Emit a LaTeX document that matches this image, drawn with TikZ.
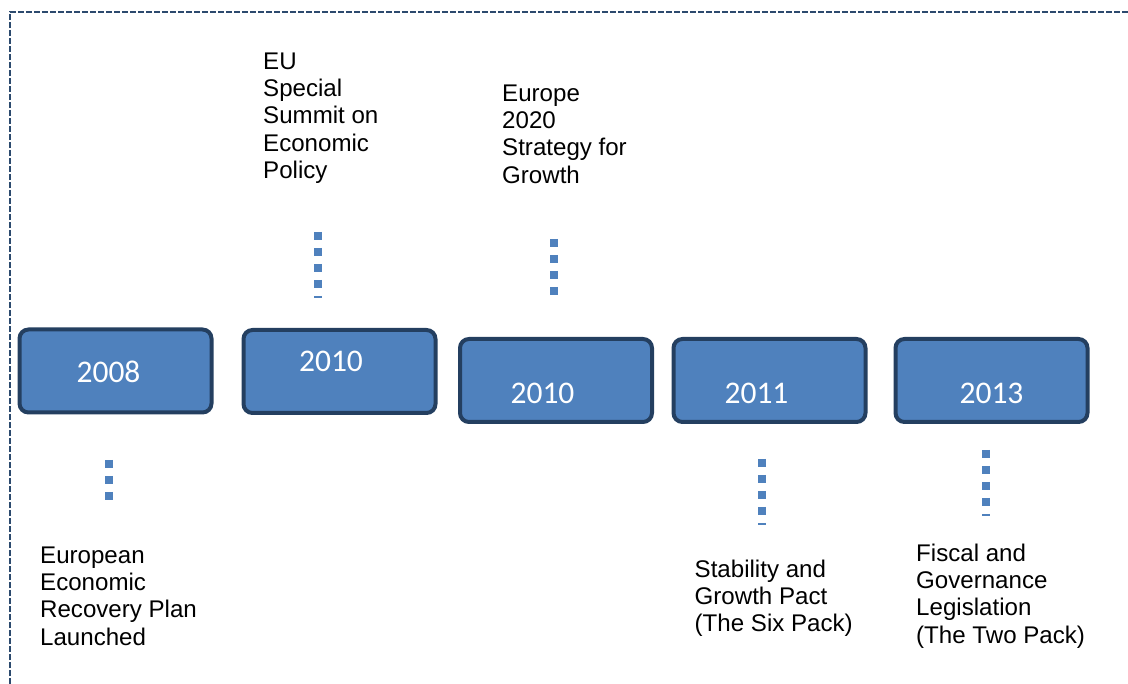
\documentclass[tikz,border=0pt]{standalone}
\usepackage{fontspec}
\setmainfont{Liberation Sans}
\newfontfamily\yearfont{Carlito}
\definecolor{boxfill}{HTML}{4F81BD}
\definecolor{boxline}{HTML}{243F60}
\definecolor{frameline}{HTML}{2C4A6E}
\begin{document}
\begin{tikzpicture}[x=1pt,y=-1pt,
  yearbox/.style={draw=boxline, fill=boxfill, line width=4pt, rounded corners=9pt,
    minimum width=192pt, minimum height=83pt, inner sep=0pt},
  yeartext/.style={text=white, inner sep=0pt, font=\yearfont\fontsize{31.5}{35}\selectfont},
  eventtext/.style={anchor=north west, align=left, inner sep=0pt, text=black,
    font=\fontsize{24.1}{27.4}\selectfont},
  dotlink/.style={draw=boxfill, line width=8pt, dash pattern=on 8pt off 8pt}]
  \useasboundingbox (0,0) rectangle (1128,684);

  % dashed frame along the top and left edges
  \draw[frameline, line width=2.2pt, dash pattern=on 6pt off 2pt] (10,684) -- (10,12) -- (1128,12);

  % year boxes
  \node[yearbox] (b1) at (115.5,371) {};
  \node[yearbox] (b2) at (339.5,371.5) {};
  \node[yearbox] (b3) at (556,380.5) {};
  \node[yearbox] (b4) at (769.5,380.5) {};
  \node[yearbox] (b5) at (991.5,380.5) {};

  \node[yeartext] (y1) at (108.5,372) {2008};
  \node[yeartext] (y2) at (331,361.5) {2010};
  \node[yeartext] (y3) at (542.5,393) {2010};
  \node[yeartext] (y4) at (756.5,393) {2011};
  \node[yeartext] (y5) at (991.5,393) {2013};

  % event descriptions
  \node[eventtext] (e1) at (40,546.4) {European\\Economic\\Recovery Plan\\Launched};
  \node[eventtext] (e2) at (263,52.4) {EU\\Special\\Summit on\\Economic\\Policy};
  \node[eventtext] (e3) at (502,84.4) {Europe\\2020\\Strategy for\\Growth};
  \node[eventtext] (e4) at (694.5,559.4) {Stability and\\Growth Pact\\(The Six Pack)};
  \node[eventtext] (e5) at (916,543.4) {Fiscal and\\Governance\\Legislation\\(The Two Pack)};

  % square-dotted leaders between boxes and descriptions
  \coordinate (d1a) at (108.5,460);  \coordinate (d1b) at (108.5,500);
  \coordinate (d2a) at (318,232);    \coordinate (d2b) at (318,298);
  \coordinate (d3a) at (554,239);    \coordinate (d3b) at (554,296);
  \coordinate (d4a) at (762,459);    \coordinate (d4b) at (762,525);
  \coordinate (d5a) at (986,450);    \coordinate (d5b) at (986,516);
  \draw[dotlink] (d1a) -- (d1b);
  \draw[dotlink] (d2a) -- (d2b);
  \draw[dotlink] (d3a) -- (d3b);
  \draw[dotlink] (d4a) -- (d4b);
  \draw[dotlink] (d5a) -- (d5b);
\end{tikzpicture}
\end{document}
